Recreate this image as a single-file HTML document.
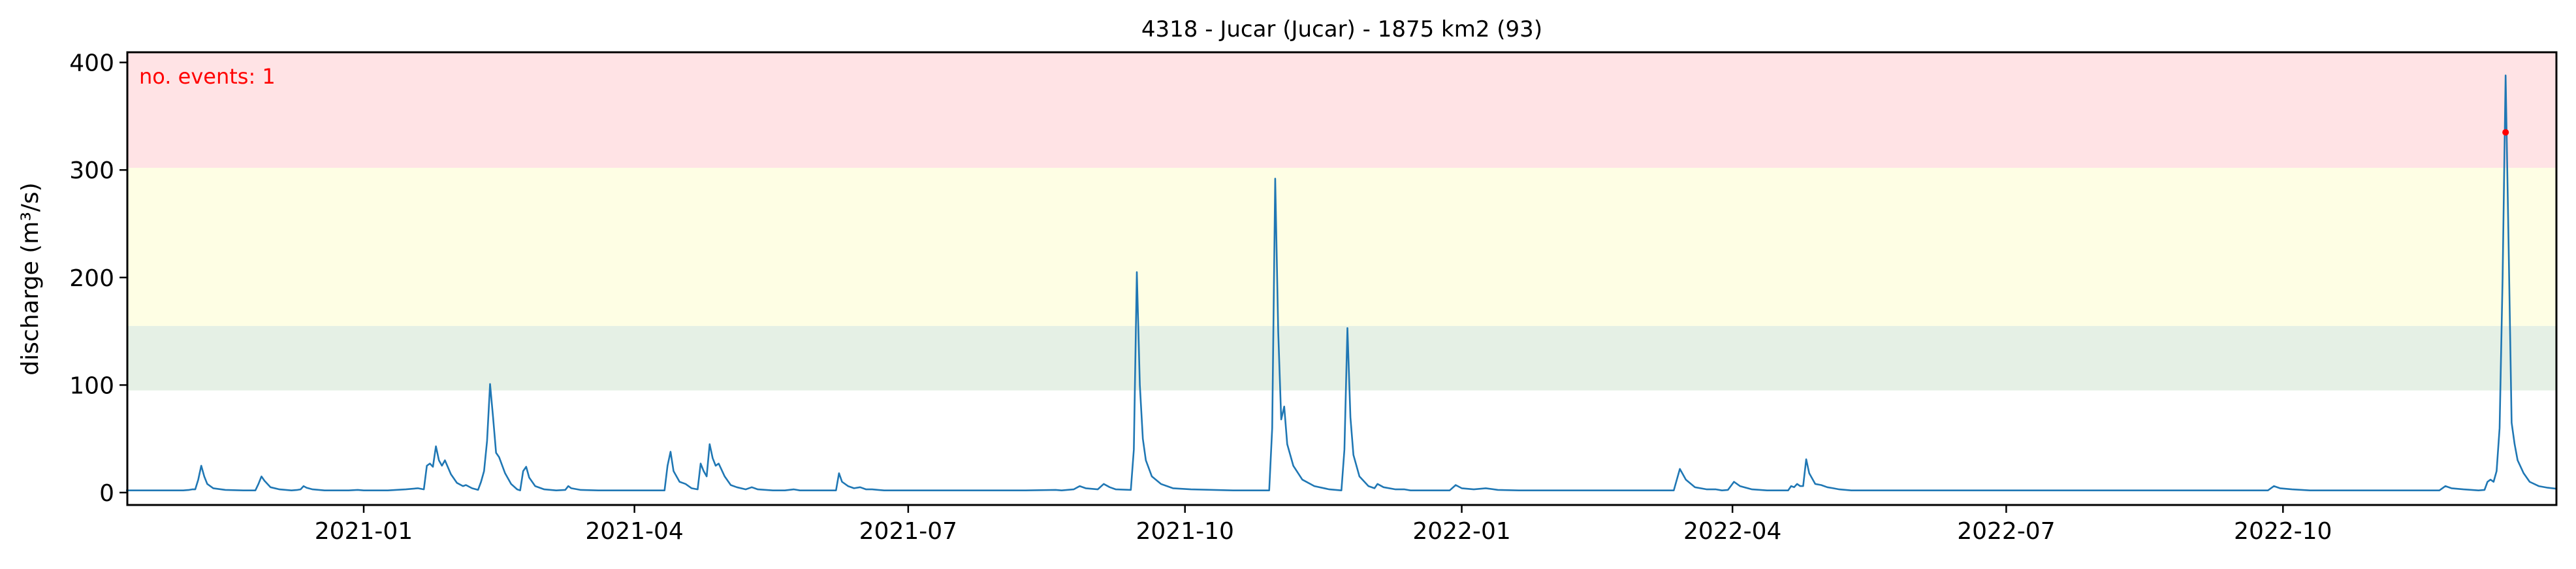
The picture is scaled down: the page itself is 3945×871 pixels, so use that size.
<!DOCTYPE html>
<html><head><meta charset="utf-8"><style>
html,body{margin:0;padding:0;background:#fff;}
svg{display:block;font-family:"DejaVu Sans","Liberation Sans",sans-serif;}
</style></head><body>
<svg id="chart" width="3945" height="871" viewBox="0 0 3945 871" xmlns="http://www.w3.org/2000/svg">
<text x="2055" y="56" font-size="34" text-anchor="middle">4318 - Jucar (Jucar) - 1875 km2 (93)</text>
<text transform="translate(58,427) rotate(-90)" font-size="36" text-anchor="middle">discharge (m³/s)</text>
<g id="plot"></g>
</svg>
<script>
// days offset from 2021-01-01
const flowDays = [-79,-60,-58,-57,-56,-55,-54,-53,-52,-50,-46,-40,-36,-35,-34,-33,-31,-28,-24,-22,-21,-20,-19,-17,-13,-5,-2,0,8,14,18,20,21,22,23,24,25,26,27,29,31,33,34,36,38,39,40,41,42,43,44,45,47,49,51,52,53,54,55,57,60,64,67,68,69,72,78,100,101,102,103,105,107,109,111,112,113,114,115,116,117,118,120,122,124,127,129,131,136,140,143,145,157,158,159,161,163,165,167,169,171,173,185,200,220,230,232,236,238,240,244,246,248,250,255,256,257,258,259,260,262,265,269,275,289,301,302,303,304,305,306,307,309,312,316,321,325,326,327,328,329,331,334,336,337,339,343,346,348,361,363,365,369,373,377,384,435.5,437.5,439.5,442.5,446.5,449.5,451.5,453.5,455.5,457.5,461.5,466.5,473.5,474.5,475.5,476.5,477.5,478.5,479.5,480.5,482.5,484.5,486.5,488.5,490.5,494.5,558.5,600,633,635,637,641,647,690,692,694,698,703,705,706,707,708,709,710,711,712,713,714,715,716,718,720,723,726,729];
const flowValues = [2,2,2.5,3,3,12,25,15,8,4,2.5,2,2,8,15,11,5,3,2,2.5,3,6,4.5,3,2,2,2.5,2,2,3,4,3,25,27,24,43,30,25,30,17,9,6,7,4,2.5,10,20,48,101,70,37,33,18,8,3,2,20,24,14,6,3,2,2.5,6,4,2.5,2,2,25,38,20,10,8,4,3,27,20,15,45,32,25,27,15,7,5,3,5,3,2,2,3,2,2,18,10,6,4,5,3,3,2.5,2,2,2,2,2.5,2,3,6,4,3,8,5,3,2.5,40,205,100,50,30,15,8,4,3,2,2,60,292,150,68,80,45,25,12,6,3,2,40,153,70,35,15,6,4,8,5,3,3,2,2,7,4,3,4,2.5,2,2,22,12,5,3,3,2,2.5,10,6,3,2,2,6,5,8,6,6,31,18,8,7,5,4,3,2,2,2,2,6,4,3,2,2,6,4,3,2,2.5,10,12,10,20,60,200,388,230,65,45,30,18,10,6,4.5,3.5];
const eventDays = [712];
const eventValues = [335];
const bandLow = [95, 155, 302];
const bandHigh = [155, 302, 410];
const bandColors = ["#e5f0e5", "#fefee4", "#ffe3e5"];
const yTicks = [0, 100, 200, 300, 400];
const xTickDays = [0, 90, 181, 273, 365, 455, 546, 638];
const xTickLabels = ["2021-01","2021-04","2021-07","2021-10","2022-01","2022-04","2022-07","2022-10"];
const eventLabel = "no. events: 1";

const L=195,R=3915,T=80,B=773;
const X = d => 557 + d*4.607;
const Y = v => 754 - v*1.646;
const NS="http://www.w3.org/2000/svg";
const g=document.getElementById('plot');
function mk(tag,attrs){const e=document.createElementNS(NS,tag);for(const k in attrs)e.setAttribute(k,attrs[k]);g.appendChild(e);return e;}

for(let i=0;i<bandLow.length;i++){
  const top=Math.max(T,Y(bandHigh[i])), bot=Y(bandLow[i]);
  const r=mk('rect',{x:L,y:top,width:R-L,height:bot-top,fill:bandColors[i]});
  
  
}
const t=mk('text',{x:213,y:128,'font-size':32,fill:'#ff0000'});
t.textContent=eventLabel;



let pts=flowDays.map((d,i)=>X(d).toFixed(1)+','+Y(flowValues[i]).toFixed(1)).join(' ');
const pl=mk('polyline',{points:pts,fill:'none',stroke:'#1f77b4','stroke-width':2.6,'stroke-linejoin':'round'});



eventDays.forEach((d,i)=>{
  const c=mk('circle',{cx:X(d),cy:Y(eventValues[i]),r:5,fill:'#ff0000'});
  
  
});

const fr=mk('rect',{x:L,y:T,width:R-L,height:B-T,fill:'none',stroke:'#000','stroke-width':3});



yTicks.forEach(v=>{
  const ln=mk('line',{x1:L-12,x2:L,y1:Y(v),y2:Y(v),stroke:'#000','stroke-width':2.5});
  
  
  const tx=mk('text',{x:L-20,y:Y(v)+13,'font-size':36,'text-anchor':'end'});
  tx.textContent=v;
  
  
});
xTickDays.forEach((d,i)=>{
  const ln=mk('line',{x1:X(d),x2:X(d),y1:B,y2:B+12,stroke:'#000','stroke-width':2.5});
  
  
  const tx=mk('text',{x:X(d),y:B+52,'font-size':36,'text-anchor':'middle'});
  tx.textContent=xTickLabels[i];
  
  
});
</script>
</body></html>
